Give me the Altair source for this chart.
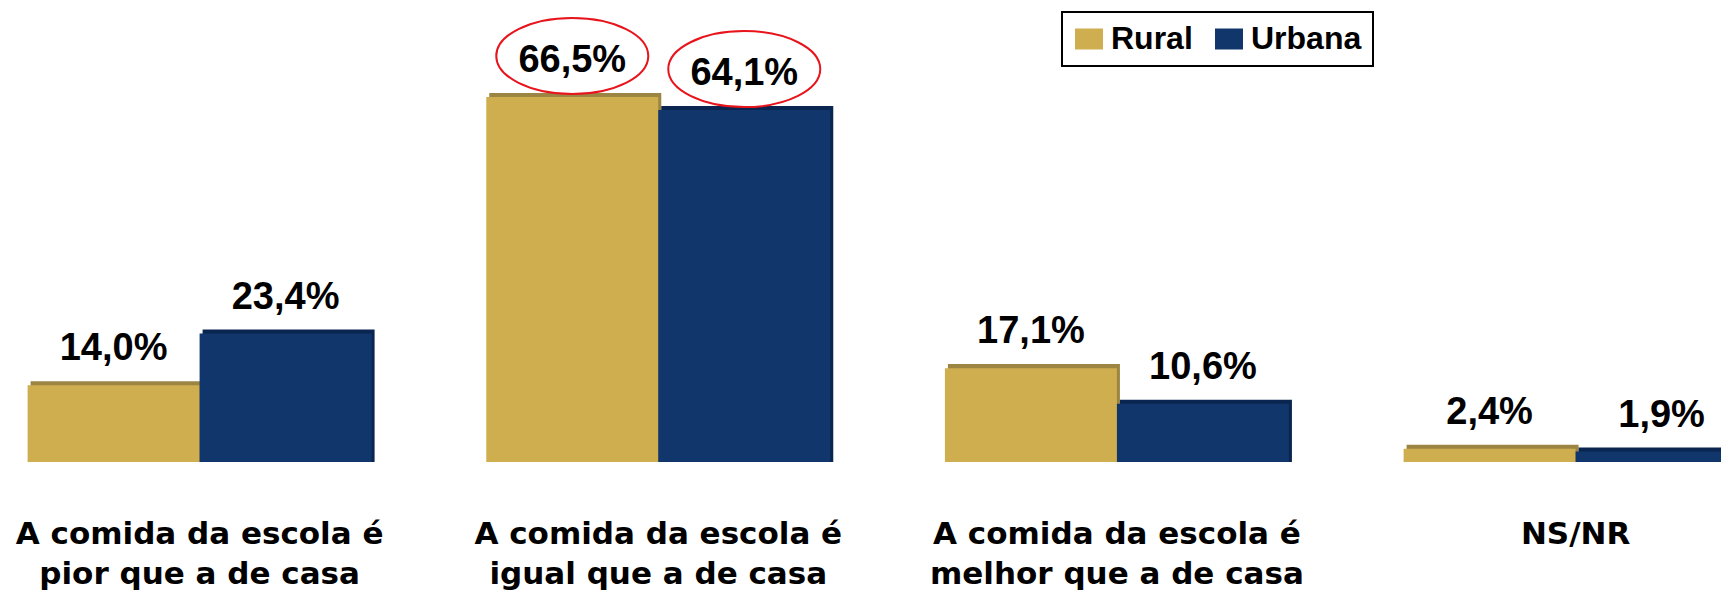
import altair as alt
import pandas as pd

# ---- data ----
categories = [
    "A comida da escola é|pior que a de casa",
    "A comida da escola é|igual que a de casa",
    "A comida da escola é|melhor que a de casa",
    "NS/NR",
]
series = ["Rural", "Urbana"]
rural_values = [14.0, 66.5, 17.1, 2.4]
urbana_values = [23.4, 64.1, 10.6, 1.9]
rural_circled = [False, True, False, False]
urbana_circled = [False, True, False, False]

# ---- styles ----
face_colors = ["#CFAE50", "#10366B"]
edge_colors = ["#9C8542", "#0A2550"]
ellipse_color = "#E8141C"
ellipse_path = "M -1 0 A 1 0.5 0 1 0 1 0 A 1 0.5 0 1 0 -1 0 Z"
swatch_path = "M -1 -0.75 H 1 V 0.75 H -1 Z"

rows = []
for i, cat in enumerate(categories):
    for s, vals, circ in ((series[0], rural_values, rural_circled),
                          (series[1], urbana_values, urbana_circled)):
        v = vals[i]
        rows.append({
            "cat": cat,
            "series": s,
            "value": v,
            "label": f"{v:.1f}".replace(".", ",") + "%",
            "circled": circ[i],
        })
df = pd.DataFrame(rows)

x_enc = alt.X(
    "cat:N",
    sort=categories,
    scale=alt.Scale(range=[19.6, 1739.6], paddingInner=0.25, paddingOuter=0),
    axis=alt.Axis(
        title=None,
        labelExpr="split(datum.label, '|')",
        labelFont="DejaVu Sans",
        labelFontWeight="bold",
        labelFontSize=31,
        labelLineHeight=40,
        labelColor="black",
        labelAngle=0,
        labelBaseline="top",
        labelPadding=57.5,
        labelLimit=800,
        labelOverlap=False,
        ticks=False,
        tickSize=0,
        domain=False,
        grid=False,
    ),
)
y_scale = alt.Scale(domain=[0, 82.7], nice=False, zero=True)
xoff_face = alt.XOffset("series:N", sort=series,
                        scale=alt.Scale(type="band", paddingInner=0, paddingOuter=0))
xoff_center = alt.XOffset("series:N", sort=series,
                          scale=alt.Scale(type="point", range=[86, 258], padding=0))

base = alt.Chart(df)

shadow = base.transform_calculate(top="datum.value + 0.73").mark_bar(clip=True).encode(
    x=x_enc,
    xOffset=alt.XOffset("series:N", sort=series,
                        scale=alt.Scale(type="band", range=[3, 347],
                                        paddingInner=0, paddingOuter=0)),
    y=alt.Y("top:Q", scale=y_scale, axis=None),
    color=alt.condition(alt.datum.series == series[0],
                        alt.value(edge_colors[0]), alt.value(edge_colors[1])),
)

face = base.mark_bar(clip=True).encode(
    x=x_enc,
    xOffset=xoff_face,
    y=alt.Y("value:Q", scale=y_scale, axis=None),
    color=alt.Color(
        "series:N",
        scale=alt.Scale(domain=series, range=face_colors),
        legend=alt.Legend(
            title=None,
            orient="none",
            legendX=1054,
            legendY=4,
            direction="horizontal",
            symbolType=swatch_path,
            symbolSize=784,
            symbolStrokeWidth=0,
            symbolOpacity=1,
            labelFont="Liberation Sans",
            labelFontWeight="bold",
            labelFontSize=32,
            labelColor="black",
            labelOffset=6,
            columnPadding=20,
            padding=11,
            strokeColor="black",
            fillColor="white",
        ),
    ),
)

labels = base.mark_text(
    font="Liberation Sans", fontWeight="bold", fontSize=38,
    baseline="alphabetic", align="center", dy=-25, color="black",
).encode(
    x=x_enc,
    xOffset=xoff_center,
    y=alt.Y("value:Q", scale=y_scale, axis=None),
    text="label:N",
)

ellipses = base.transform_filter(alt.datum.circled).mark_point(
    shape=ellipse_path, size=23104, filled=False, stroke=ellipse_color,
    strokeWidth=2, opacity=1, yOffset=-41,
).encode(
    x=x_enc,
    xOffset=xoff_center,
    y=alt.Y("value:Q", scale=y_scale, axis=None),
)

chart = alt.layer(shadow, face, labels, ellipses).resolve_scale(
    xOffset="independent"
).properties(
    width=1713,
    height=454,
    autosize=alt.AutoSizeParams(type="none"),
    padding={"left": 0, "top": 0, "right": 0, "bottom": 134},
    background="white",
).configure_view(stroke=None).configure_legend(strokeWidth=2)

chart.save("out.html", embed_options={"renderer": "svg", "actions": False})
